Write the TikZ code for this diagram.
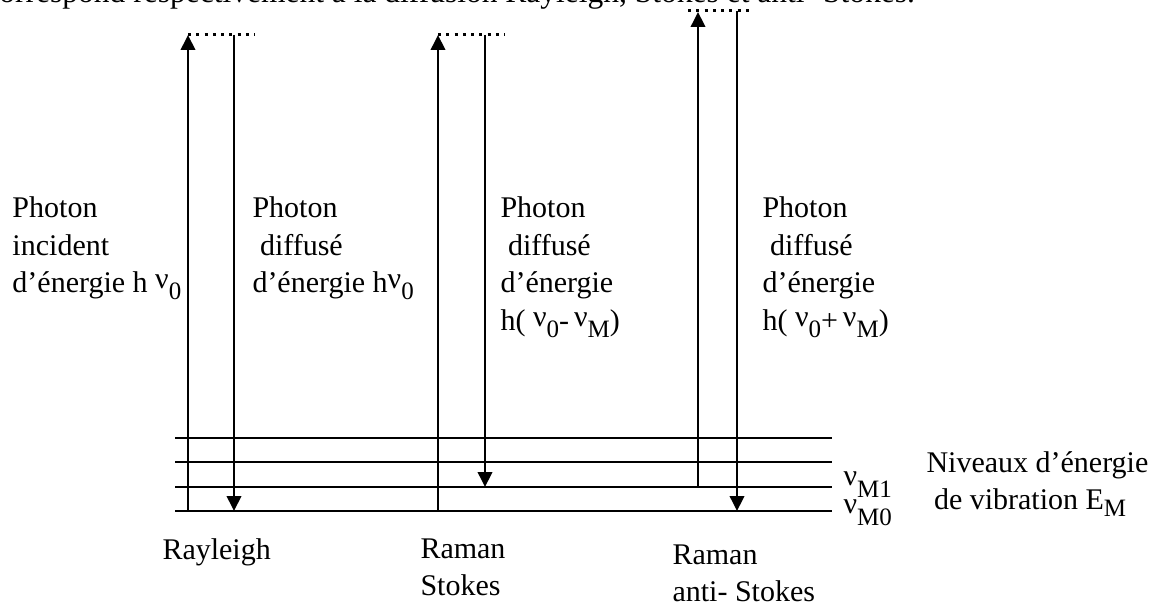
\documentclass[tikz,border=0pt]{standalone}
\usepackage{fontspec}
\setmainfont{Liberation Serif}
\usetikzlibrary{arrows.meta,calc,positioning}
\newcommand{\nuu}{\raisebox{1.8pt}{ν}}
\newcommand{\idx}[1]{\raisebox{-2.8pt}{\fontsize{10}{10}\selectfont #1}}

\begin{document}
\begin{tikzpicture}[x=0.4pt,y=-0.4pt,
    level/.style={line width=0.8pt},
    photon/.style={line width=0.8pt,-{Triangle[length=6pt,width=5.8pt]}},
    virtual/.style={line width=1.2pt,dash pattern=on 1.2pt off 2.1pt},
    lbl/.style={font=\fontsize{12}{14.8}\selectfont,align=left,inner sep=0pt,anchor=north west},
    plbl/.style={lbl,font=\fontsize{12}{15.1}\selectfont}
  ]
    \useasboundingbox (0,0) rectangle (1165,606);
    % sentence of the page above, cut by the frame
    \node[lbl,anchor=base west,font=\fontsize{12.6}{14}\selectfont] (intro) at (-15,3)
      {correspond respectivement à la diffusion Rayleigh, Stokes et anti- Stokes.};
    % vibrational levels
    \foreach \y [count=\i from 0] in {511,487,462,438} {
      \coordinate (lev\i W) at (175,\y);
      \coordinate (lev\i E) at (832,\y);
      \draw[level] (lev\i W) -- (lev\i E);
    }
    % virtual states
    \coordinate (rayUp) at (188,35);
    \coordinate (rayDn) at (234,35);
    \coordinate (rayEnd) at (255,35);
    \coordinate (stoUp) at (438,35);
    \coordinate (stoDn) at (485,35);
    \coordinate (stoEnd) at (505,35);
    \coordinate (astUp) at (698,12);
    \coordinate (astDn) at (737,11);
    \coordinate (astBeg) at (688,11);
    \coordinate (astEnd) at (752,11);
    \draw[virtual] (rayUp) -- (rayEnd);
    \draw[virtual] (stoUp) -- (stoEnd);
    \draw[virtual] (astBeg) -- (astEnd);
    % transitions
    \draw[photon] (rayUp |- lev0W) -- (rayUp);
    \draw[photon] (rayDn) -- (rayDn |- lev0W);
    \draw[photon] (stoUp |- lev0W) -- (stoUp);
    \draw[photon] (stoDn) -- (stoDn |- lev1W);
    \draw[photon] (astUp |- lev1W) -- (astUp);
    \draw[photon] (astDn) -- (astDn |- lev0W);
    % photon labels
    \node[plbl] (inc) at (12,196) {Photon\\incident\\d’énergie h \nuu\idx{0}};
    \node[plbl] (rayOut) at (252,196) {Photon\\\hspace*{0.25em}diffusé\\d’énergie h\nuu\idx{0}};
    \node[plbl] (stoOut) at (500,196) {Photon\\\hspace*{0.25em}diffusé\\d’énergie\\h( \nuu\idx{0}-\,\nuu\idx{M})};
    \node[plbl] (astOut) at (762,196) {Photon\\\hspace*{0.25em}diffusé\\d’énergie\\h( \nuu\idx{0}+\,\nuu\idx{M})};
    % level labels
    \node[lbl,anchor=base west] (nuOne) at (843,490) {\nuu\idx{M1}};
    \node[lbl,anchor=base west] (nuZero) at (843,518) {\nuu\idx{M0}};
    \node[lbl,font=\fontsize{12}{15}\selectfont] (levels) at (926,451)
      {Niveaux d’énergie\\\hspace*{3pt}de vibration E\idx{M}};
    % process names
    \node[lbl] (rayName) at (162,538) {Rayleigh};
    \node[lbl] (stoName) at (420,538) {Raman\\Stokes};
    \node[lbl] (astName) at (672,544) {Raman\\anti- Stokes};
  \end{tikzpicture}
\end{document}
